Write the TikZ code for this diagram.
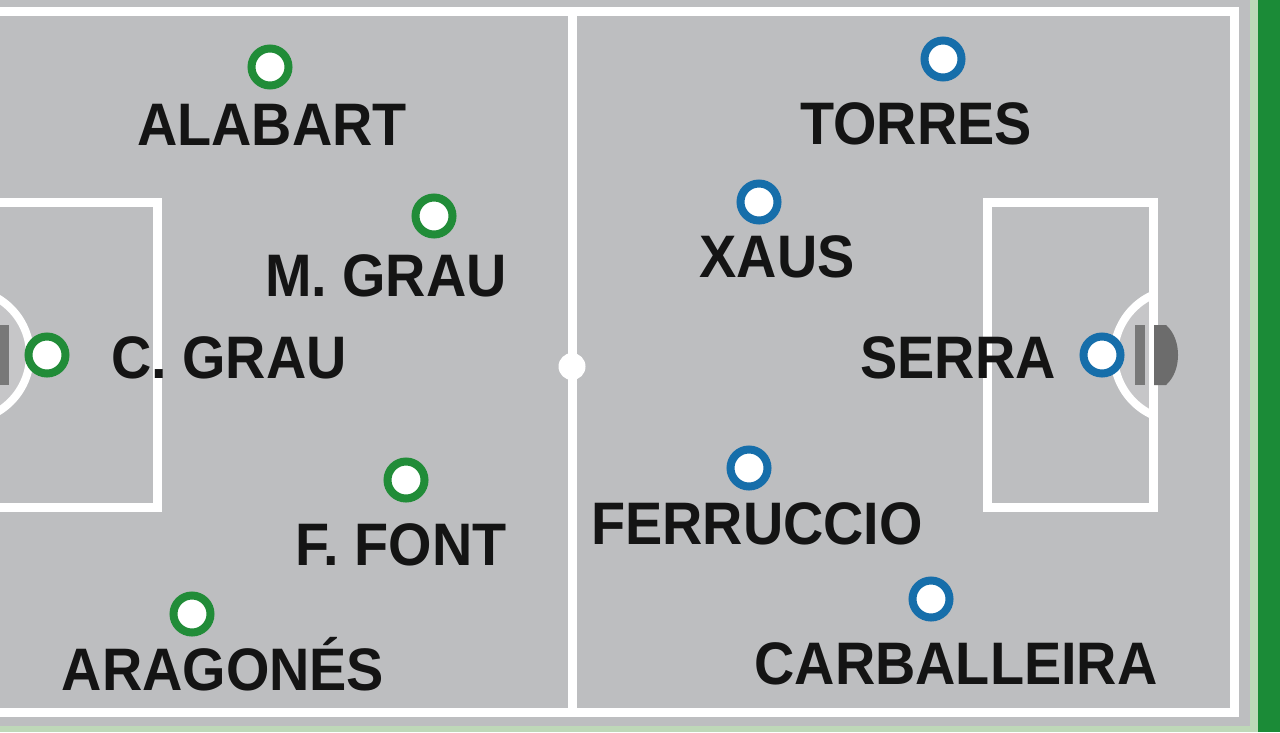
\documentclass[tikz,border=0pt]{standalone}
\usepackage{fontspec}
\newfontfamily\namefont{Liberation Sans}[FakeStretch=0.93]
\definecolor{fieldgray}{RGB}{189,190,192}
\definecolor{arcgray}{RGB}{198,198,200}
\definecolor{lightgreen}{RGB}{190,216,184}
\definecolor{darkgreen}{RGB}{27,139,55}
\definecolor{goalgray}{RGB}{120,120,120}
\definecolor{goaldark}{RGB}{108,108,108}
\definecolor{pgreen}{RGB}{33,140,56}
\definecolor{pblue}{RGB}{22,110,170}
\definecolor{ink}{RGB}{20,20,20}
\tikzset{
  pline/.style={draw=white, line width=6.75pt},
  mark base/.style={circle, fill=white, line width=6pt, minimum size=27.75pt, inner sep=0pt},
  gmark/.style={mark base, draw=pgreen},
  bmark/.style={mark base, draw=pblue},
  pname/.style={anchor=base, inner sep=0pt, text=ink, font=\namefont\bfseries\fontsize{45pt}{50pt}\selectfont}
}
\begin{document}
\begin{tikzpicture}[x=0.75pt,y=-0.75pt]
\useasboundingbox (0,0) rectangle (1280,732);
\clip (0,0) rectangle (1280,732);
% background
\fill[fieldgray] (0,0) rectangle (1280,732);
\fill[lightgreen] (0,726) rectangle (1258,732);
\fill[lightgreen] (1250,0) rectangle (1258,732);
\fill[darkgreen] (1258,0) rectangle (1280,732);
% arcs
\begin{scope}
  \clip (0,0) rectangle (1153,732);
  \filldraw[fill=arcgray, draw=white, line width=6pt] (1180,355) circle (66);
\end{scope}
\begin{scope}
  \clip (-9,0) rectangle (1280,732);
  \filldraw[fill=arcgray, draw=white, line width=6pt] (-36,355) circle (66);
\end{scope}
% pitch lines
\draw[pline] (-90,11.5) rectangle (1234.5,712.5);
\draw[pline] (572,11.5) -- (572,712.5);
\fill[white] (572,366.5) circle (13.5);
\draw[pline] (-9,202.5) rectangle (157.5,507);
\draw[pline] (987,202.5) rectangle (1153,507);
% goals
\fill[goalgray] (-1,325) rectangle (9,385);
\fill[goalgray] (1135,325) rectangle (1145,385);
\fill[goaldark] (1154,325) -- (1166,325) .. controls (1175,333) and (1178,345) .. (1178,355)
  .. controls (1178,365) and (1175,377) .. (1166,385) -- (1154,385) -- cycle;
% green team
\node[gmark] (mAlabart) at (270,67) {};
\node[pname] (tAlabart) at (272,145) {ALABART};
\node[gmark] (mMGrau) at (434,216) {};
\node[pname] (tMGrau) at (386,296) {M. GRAU};
\node[gmark] (mCGrau) at (47,355) {};
\node[pname] (tCGrau) at (229,378) {C. GRAU};
\node[gmark] (mFFont) at (406,480) {};
\node[pname] (tFFont) at (401,565) {F. FONT};
\node[gmark] (mAragones) at (192,614) {};
\node[pname] (tAragones) at (223,690) {ARAGONÉS};
% blue team
\node[bmark] (mTorres) at (943,59) {};
\node[pname] (tTorres) at (916,144) {TORRES};
\node[bmark] (mXaus) at (759,202) {};
\node[pname] (tXaus) at (777,277) {XAUS};
\node[bmark] (mSerra) at (1102,355) {};
\node[pname] (tSerra) at (958,378) {SERRA};
\node[bmark] (mFerruccio) at (749,468) {};
\node[pname] (tFerruccio) at (757,544) {FERRUCCIO};
\node[bmark] (mCarballeira) at (931,599) {};
\node[pname] (tCarballeira) at (956,684) {CARBALLEIRA};
\end{tikzpicture}
\end{document}
